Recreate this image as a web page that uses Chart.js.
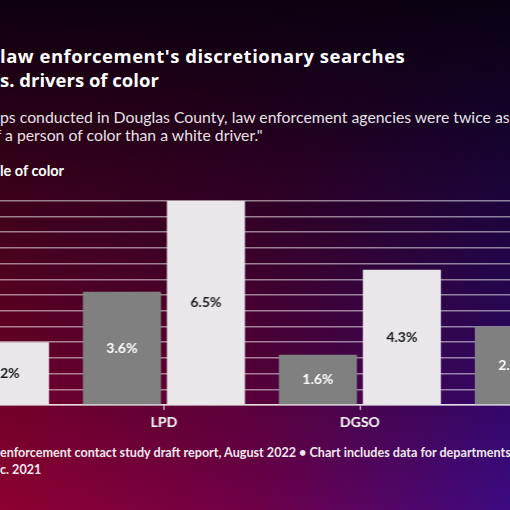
<!DOCTYPE html>
<html>
<head>
<meta charset="utf-8">
<script src="https://cdn.jsdelivr.net/npm/chart.js@4"></script>
<style>
html, body { margin: 0; padding: 0; width: 510px; height: 510px; overflow: hidden; }
body {
    position: relative;
    font-family: Lato, 'Noto Sans', sans-serif;
    color: #fff;
    background:
        linear-gradient(to bottom, rgba(6, 0, 12, 0.95) 0%, rgba(6, 0, 12, 0.55) 45%, rgba(6, 0, 12, 0) 100%),
        linear-gradient(to right, #8e0030 0%, #6e0048 50%, #3c0a82 100%);
}
.ln { position: absolute; white-space: nowrap; line-height: 1.2; }
.pre { position: absolute; right: 100%; white-space: pre; }
.title { font-family: 'Open Sans', sans-serif; font-size: 18.5px; font-weight: 700; line-height: 1.36; }
.sub { font-size: 15.8px; color: #e6e2e6; }
.key { font-size: 14.5px; font-weight: 700; }
.foot { font-size: 12.6px; font-weight: 700; color: #f2e8ee; }
#wrap { position: absolute; left: -130.25px; top: 195px; width: 782.8px; height: 234px; }
</style>
</head>
<body>

<div class="ln title" style="left:0px; top:42.5px; letter-spacing:0.5px;"><span class="pre">Douglas County </span>law enforcement's discretionary searches</div>
<div class="ln title" style="left:0px; top:67px;"><span class="pre">of white drivers v</span>s. drivers of color</div>

<div class="ln sub" style="left:0px; top:108px;"><span class="pre">"Of all traffic sto</span>ps conducted in Douglas County, law enforcement agencies were twice as likely to search</div>
<div class="ln sub" style="left:5px; top:126.4px;"><span class="pre">the vehicle of </span>a person of color than a white driver."</div>

<div class="ln key" style="left:0px; top:161.5px;"><span class="pre">Search rate, white drivers vs. peop</span>le of color</div>

<div id="wrap"><canvas id="chart"></canvas></div>

<div class="ln foot" style="left:0px; top:444.5px;"><span class="pre">Source: Nebraska Crime Commission law </span>enforcement contact study draft report, August 2022 • Chart includes data for departments that reported stops</div>
<div class="ln foot" style="left:0px; top:461.5px;"><span class="pre">from Jan. through De</span>c. 2021</div>

<script>
const categories = ['OPD', 'LPD', 'DGSO', 'BPD'];
const whiteDrivers = [1.0, 3.6, 1.6, 2.5];
const driversOfColor = [2.0, 6.5, 4.3, 5.2];
const yMin = 0;
const yMax = 6.5;
const yStep = 0.5;

function formatPercent(value) {
    return (Math.round(value * 10) / 10).toString() + '%';
}

const barLabels = {
    id: 'bar_labels',
    afterDraw: (chart) => {
        const ctx = chart.ctx;
        ctx.save();
        ctx.font = 'bold 14px Lato';
        ctx.textAlign = 'center';
        ctx.textBaseline = 'middle';
        chart.data.datasets.forEach((dataset, i) => {
            chart.getDatasetMeta(i).data.forEach((bar, j) => {
                ctx.fillStyle = i == 0 ? '#ffffff' : '#1c1c1c';
                ctx.fillText(formatPercent(dataset.data[j]), bar.x, (bar.y + bar.base) / 2);
            });
        });
        ctx.restore();
    }
};

const data = {
    labels: categories,
    datasets: [
        {
            label: 'White drivers',
            data: whiteDrivers,
            backgroundColor: 'rgb(129, 128, 129)',
            categoryPercentage: 0.857,
            barPercentage: 0.93
        },
        {
            label: 'People of color',
            data: driversOfColor,
            backgroundColor: 'rgb(233, 231, 234)',
            categoryPercentage: 0.857,
            barPercentage: 0.93
        }
    ]
};

const config = {
    type: 'bar',
    data: data,
    options: {
        responsive: true,
        maintainAspectRatio: false,
        animation: false,
        layout: {
            padding: { top: 5.7, left: 0, right: 0, bottom: 0 }
        },
        plugins: {
            legend: { display: false },
            tooltip: { enabled: false }
        },
        scales: {
            x: {
                offset: true,
                grid: {
                    offset: false,
                    drawOnChartArea: false,
                    drawTicks: true,
                    tickLength: 5,
                    color: 'rgba(235, 235, 235, 0.9)',
                    lineWidth: 1.2
                },
                border: { display: true, color: 'rgba(235, 235, 235, 0.9)', width: 1.5 },
                ticks: {
                    color: '#ffffff',
                    padding: 4,
                    font: { family: 'Lato', size: 14, weight: 'bold' }
                },
                afterFit: (scale) => { scale.height = 24; }
            },
            y: {
                z: 1,
                min: yMin,
                max: yMax,
                ticks: { display: false, stepSize: yStep },
                grid: {
                    color: 'rgba(255, 255, 255, 0.5)',
                    lineWidth: 1.5,
                    drawTicks: false
                },
                border: { display: false },
                afterFit: (scale) => { scale.width = 0; }
            }
        }
    },
    plugins: [barLabels]
};

let chart = new Chart(
    document.getElementById('chart'),
    config
);
</script>
</body>
</html>
